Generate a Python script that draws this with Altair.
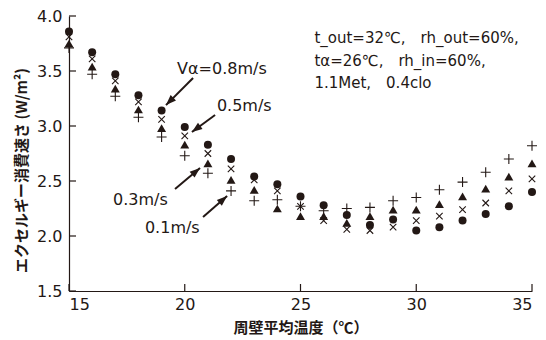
import math
import altair as alt
import pandas as pd

# ---- data ----
temps = list(range(15, 36))
v08 = [3.86, 3.67, 3.47, 3.28, 3.14, 2.99, 2.83, 2.70, 2.54, 2.47, 2.36, 2.28, 2.19, 2.10, 2.15, 2.05, 2.08, 2.14, 2.20, 2.27, 2.40]  # filled circle
v05 = [3.81, 3.61, 3.41, 3.22, 3.06, 2.91, 2.75, 2.61, 2.51, 2.41, 2.27, 2.14, 2.06, 2.05, 2.08, 2.14, 2.18, 2.24, 2.30, 2.41, 2.52]  # x
v03 = [3.75, 3.54, 3.34, 3.15, 2.98, 2.83, 2.66, 2.51, 2.42, 2.25, 2.18, 2.18, 2.12, 2.18, 2.24, 2.24, 2.29, 2.36, 2.43, 2.54, 2.66]  # triangle
v01 = [3.71, 3.47, 3.27, 3.08, 2.90, 2.73, 2.57, 2.41, 2.32, 2.33, 2.27, 2.23, 2.25, 2.26, 2.32, 2.35, 2.42, 2.49, 2.58, 2.70, 2.82]  # plus

x_ticks = [15, 20, 25, 30, 35]
y_ticks = [1.5, 2.0, 2.5, 3.0, 3.5, 4.0]

label_texts = ["Vα=0.8m/s", "0.5m/s", "0.3m/s", "0.1m/s"]
label_x = [19.67, 21.39, 16.90, 18.28]
label_y = [3.52, 3.18, 2.33, 2.07]

arrow_x1 = [20.36, 21.31, 19.58, 20.79]
arrow_y1 = [3.436, 3.10, 2.427, 2.173]
arrow_x2 = [19.19, 20.31, 20.66, 21.83]
arrow_y2 = [3.19, 2.945, 2.618, 2.364]

cond_lines = ["t_out=32℃,\u2003rh_out=60%,", "tα=26℃,\u2003rh_in=60%,", "1.1Met,\u20030.4clo"]
cond_x = [25.6, 25.6, 25.6]
cond_y = [3.80, 3.59, 3.39]

W, H = 463, 275
X0, X1, Y0, Y1 = 15, 35, 1.5, 4.0
INK = "#231815"
FONT = "DejaVu Sans"
JFONT = "Noto Sans CJK JP"

xs = alt.Scale(domain=[X0, X1], nice=False, zero=False)
ys = alt.Scale(domain=[Y0, Y1], nice=False, zero=False)

df = pd.DataFrame({"t": temps, "v08": v08, "v05": v05, "v03": v03, "v01": v01})

x_enc = alt.X("t:Q", scale=xs,
              axis=alt.Axis(values=x_ticks, format="d", title="周壁平均温度（℃）",
                            titleFont=JFONT, titleFontSize=15, titleFontWeight="bold",
                            titleY=36, titleBaseline="middle", titleColor=INK))

base = alt.Chart(df)

circles = base.mark_point(shape="circle", filled=True, size=64, color=INK, opacity=1).encode(
    x=x_enc,
    y=alt.Y("v08:Q", scale=ys,
            axis=alt.Axis(values=y_ticks, format=".1f", title="エクセルギー消費速さ (W/m²)",
                          titleFont=JFONT, titleFontSize=15, titleFontWeight="bold",
                          titleX=-48, titleY=154, titleBaseline="middle", titleColor=INK)))
crosses = base.mark_point(shape="M-1,-1L1,1M-1,1L1,-1", filled=False, size=42, color=INK,
                          strokeWidth=1.1, opacity=1).encode(x=alt.X("t:Q", scale=xs), y=alt.Y("v05:Q", scale=ys))
tris = base.mark_point(shape="triangle-up", filled=True, size=80, color=INK, opacity=1).encode(
    x=alt.X("t:Q", scale=xs), y=alt.Y("v03:Q", scale=ys))
pluses = base.mark_point(shape="M-1,0L1,0M0,-1L0,1", filled=False, size=100, color=INK,
                         strokeWidth=1.1, opacity=1).encode(x=alt.X("t:Q", scale=xs), y=alt.Y("v01:Q", scale=ys))

# inward ticks
yt = alt.Chart(pd.DataFrame({"v": y_ticks})).mark_rule(color=INK, strokeWidth=1.2).encode(
    y=alt.Y("v:Q", scale=ys), x=alt.value(0), x2=alt.value(7))
xt = alt.Chart(pd.DataFrame({"v": x_ticks})).mark_rule(color=INK, strokeWidth=1.2).encode(
    x=alt.X("v:Q", scale=xs), y=alt.value(H), y2=alt.value(H - 7))

# labels and arrows
lab = alt.Chart(pd.DataFrame({"x": label_x, "y": label_y, "s": label_texts})).mark_text(
    align="left", baseline="middle", font=FONT, fontSize=16, color=INK).encode(
    x=alt.X("x:Q", scale=xs), y=alt.Y("y:Q", scale=ys), text="s:N")

pxx = W / (X1 - X0)
pxy = H / (Y1 - Y0)
angs = []
for a, b, c, d in zip(arrow_x1, arrow_y1, arrow_x2, arrow_y2):
    dx = (c - a) * pxx
    dy = -(d - b) * pxy
    angs.append(math.degrees(math.atan2(dx, -dy)) % 360)
adf = pd.DataFrame({"x1": arrow_x1, "y1": arrow_y1, "x2": arrow_x2, "y2": arrow_y2, "ang": angs})
shafts = alt.Chart(adf).mark_rule(color=INK, strokeWidth=2).encode(
    x=alt.X("x1:Q", scale=xs), y=alt.Y("y1:Q", scale=ys), x2="x2:Q", y2="y2:Q")
heads = alt.Chart(adf).mark_point(shape="M0,0L-0.85,2.3L0.85,2.3Z", filled=True, size=81,
                                  color=INK, opacity=1).encode(
    x=alt.X("x2:Q", scale=xs), y=alt.Y("y2:Q", scale=ys), angle=alt.Angle("ang:Q", scale=None))

cond = alt.Chart(pd.DataFrame({"x": cond_x, "y": cond_y, "s": cond_lines})).mark_text(
    align="left", baseline="middle", font=FONT, fontSize=15, color=INK).encode(
    x=alt.X("x:Q", scale=xs), y=alt.Y("y:Q", scale=ys), text="s:N")

chart = alt.layer(circles, crosses, tris, pluses, yt, xt, shafts, heads, lab, cond).properties(
    width=W, height=H,
    autosize=alt.AutoSizeParams(type="none"),
    padding={"left": 61, "top": 8, "right": 6, "bottom": 46},
    background="white",
).configure_view(stroke=None).configure_axis(
    grid=False, ticks=False, tickSize=0, domainColor=INK, domainWidth=1.2,
    labelFont=FONT, labelFontSize=16, labelColor=INK, labelPadding=7,
).configure_axisX(labelPadding=5)

chart.save("out.html", embed_options={"renderer": "svg", "actions": False})
